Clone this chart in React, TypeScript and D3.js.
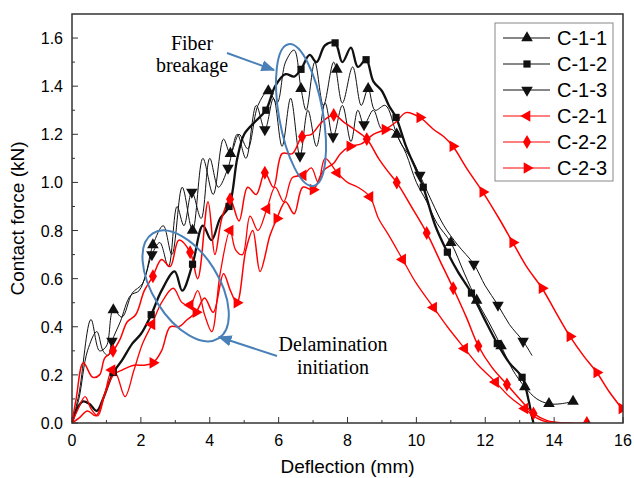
import React from 'react';
import * as d3 from 'd3';

// curve points [deflection mm, force kN]
const c11 = [[0,0],[0.2,0.12],[0.55,0.43],[0.8,0.3],[1.0,0.32],[1.2,0.47],[1.45,0.44],[1.75,0.54],[2.05,0.58],[2.35,0.74],[2.65,0.82],[2.9,0.7],[3.2,0.98],[3.5,0.8],[3.8,1.1],[4.1,0.95],[4.4,1.18],[4.6,1.12],[4.85,1.2],[5.1,1.14],[5.4,1.32],[5.7,1.38],[5.95,1.33],[6.2,1.5],[6.45,1.55],[6.65,1.39],[6.8,1.3],[7.05,1.5],[7.3,1.32],[7.6,1.5],[7.85,1.33],[8.15,1.48],[8.4,1.32],[8.6,1.39],[8.8,1.3],[9.1,1.32],[9.43,1.2],[9.7,1.12],[10.0,1.0],[10.3,0.92],[10.6,0.83],[11.0,0.75],[11.4,0.62],[11.75,0.51],[12.1,0.42],[12.46,0.32],[12.8,0.22],[13.15,0.15],[13.5,0.1],[13.85,0.08],[14.2,0.08],[14.55,0.09]];
const c12 = [[0,0],[0.15,0.06],[0.32,0.09],[0.5,0.08],[0.72,0.05],[0.9,0.1],[1.2,0.21],[1.45,0.26],[1.75,0.33],[2.0,0.37],[2.3,0.45],[2.6,0.55],[2.98,0.63],[3.2,0.55],[3.5,0.66],[3.8,0.82],[4.05,0.76],[4.3,0.85],[4.56,0.9],[4.8,1.1],[5.0,1.2],[5.3,1.25],[5.63,1.3],[5.9,1.4],[6.2,1.45],[6.45,1.44],[6.65,1.47],[6.9,1.53],[7.1,1.5],[7.35,1.57],[7.64,1.58],[7.85,1.5],[8.1,1.56],[8.3,1.48],[8.54,1.51],[8.75,1.42],[9.0,1.38],[9.2,1.32],[9.41,1.27],[9.7,1.15],[10.0,1.05],[10.2,0.98],[10.55,0.82],[10.9,0.71],[11.2,0.63],[11.6,0.54],[11.95,0.44],[12.35,0.33],[12.7,0.25],[13.07,0.19],[13.25,0.1],[13.35,0.03],[13.4,0]];
const c13 = [[0,0],[0.2,0.1],[0.45,0.3],[0.72,0.38],[0.9,0.3],[1.05,0.28],[1.16,0.34],[1.4,0.42],[1.7,0.53],[1.95,0.55],[2.15,0.62],[2.32,0.7],[2.55,0.75],[2.8,0.65],[3.05,0.9],[3.25,0.82],[3.48,0.96],[3.75,0.85],[4.0,1.1],[4.25,0.98],[4.53,1.06],[4.8,1.2],[5.05,1.1],[5.35,1.32],[5.6,1.22],[5.85,1.35],[6.1,1.15],[6.35,1.35],[6.62,1.11],[6.85,1.3],[7.1,1.15],[7.35,1.33],[7.58,1.19],[7.85,1.32],[8.1,1.17],[8.3,1.3],[8.48,1.24],[8.75,1.3],[9.0,1.22],[9.3,1.22],[9.6,1.15],[9.85,1.1],[10.1,1.03],[10.45,0.92],[10.8,0.82],[11.2,0.74],[11.67,0.66],[12.0,0.57],[12.37,0.49],[12.7,0.41],[13.1,0.34],[13.36,0.28]];
const c21 = [[0,0],[0.15,0.05],[0.38,0.11],[0.55,0.06],[0.75,0.03],[0.95,0.12],[1.16,0.22],[1.3,0.2],[1.54,0.11],[1.8,0.22],[2.05,0.33],[2.32,0.41],[2.6,0.5],[2.94,0.56],[3.2,0.5],[3.43,0.49],[3.65,0.55],[3.85,0.45],[4.06,0.38],[4.3,0.62],[4.59,0.8],[4.75,0.72],[4.95,0.7],[5.17,0.86],[5.4,0.8],[5.66,0.89],[5.9,0.98],[6.15,0.92],[6.4,1.02],[6.71,1.03],[6.95,1.06],[7.15,1.0],[7.35,1.1],[7.7,1.04],[8.0,1.0],[8.3,0.98],[8.65,0.94],[8.9,0.85],[9.2,0.78],[9.6,0.68],[10.0,0.58],[10.5,0.48],[10.9,0.4],[11.4,0.31],[11.8,0.24],[12.3,0.17],[12.7,0.11],[13.15,0.06],[13.5,0.02],[13.9,0.0],[14.5,0.0]];
const c22 = [[0,0],[0.12,0.1],[0.33,0.25],[0.6,0.19],[0.8,0.2],[0.95,0.27],[1.19,0.3],[1.4,0.35],[1.6,0.42],[1.85,0.45],[2.1,0.55],[2.35,0.61],[2.6,0.68],[2.85,0.65],[3.1,0.76],[3.43,0.71],[3.65,0.6],[3.95,0.92],[4.15,0.7],[4.35,0.85],[4.59,0.93],[4.85,0.84],[5.1,0.98],[5.35,0.95],[5.6,1.04],[5.85,0.98],[6.1,1.12],[6.4,1.12],[6.68,1.19],[6.95,1.2],[7.25,1.25],[7.6,1.28],[7.9,1.25],[8.2,1.22],[8.56,1.18],[8.9,1.1],[9.15,1.05],[9.43,1.0],[9.85,0.9],[10.3,0.79],[10.7,0.67],[11.07,0.56],[11.45,0.44],[11.8,0.32],[12.2,0.23],[12.63,0.16],[13.0,0.1],[13.4,0.04],[13.8,0.01],[14.3,0.0],[14.95,0.0]];
const c23 = [[0,0],[0.2,0.02],[0.45,0.05],[0.7,0.03],[0.95,0.12],[1.2,0.2],[1.45,0.22],[1.8,0.24],[2.1,0.24],[2.35,0.25],[2.6,0.3],[2.85,0.4],[3.1,0.4],[3.35,0.43],[3.6,0.46],[3.85,0.52],[4.1,0.46],[4.4,0.62],[4.6,0.55],[4.79,0.5],[5.05,0.72],[5.25,0.8],[5.46,0.63],[5.75,0.78],[5.95,0.85],[6.2,0.92],[6.45,0.87],[6.7,0.98],[7.0,0.97],[7.3,1.05],[7.6,1.08],[7.8,1.12],[8.07,1.15],[8.4,1.16],[8.75,1.2],[9.09,1.22],[9.4,1.25],[9.7,1.29],[10.1,1.27],[10.5,1.22],[10.8,1.19],[11.06,1.15],[11.5,1.05],[11.93,0.96],[12.4,0.85],[12.8,0.75],[13.2,0.65],[13.65,0.56],[14.05,0.46],[14.46,0.36],[14.85,0.28],[15.24,0.21],[15.6,0.13],[15.97,0.06]];

// marker positions
const m11 = [[1.2,0.47],[2.35,0.74],[3.5,0.8],[4.6,1.12],[5.7,1.38],[6.65,1.39],[7.69,1.47],[8.6,1.39],[9.43,1.2],[11.0,0.75],[11.75,0.51],[12.46,0.32],[13.15,0.15],[13.85,0.08],[14.55,0.09]];
const m12 = [[1.2,0.21],[2.3,0.45],[3.5,0.66],[4.56,0.9],[5.63,1.3],[6.65,1.47],[7.64,1.58],[8.54,1.51],[9.41,1.27],[10.2,0.98],[10.9,0.71],[11.6,0.54],[12.35,0.33],[13.07,0.19]];
const m13 = [[1.16,0.34],[2.32,0.7],[3.48,0.96],[4.53,1.06],[5.6,1.22],[6.62,1.11],[7.58,1.19],[8.48,1.24],[10.1,1.03],[11.67,0.66],[12.37,0.49],[13.1,0.34]];
const m21 = [[1.16,0.22],[2.32,0.41],[3.43,0.49],[4.59,0.8],[5.66,0.89],[6.71,1.03],[7.7,1.04],[8.65,0.94],[9.6,0.68],[10.5,0.48],[11.4,0.31],[12.3,0.17],[13.15,0.06]];
const m22 = [[1.19,0.3],[2.35,0.61],[3.43,0.71],[4.59,0.93],[5.6,1.04],[6.68,1.19],[7.6,1.28],[8.56,1.18],[9.43,1.0],[10.3,0.79],[11.07,0.56],[11.8,0.32],[12.63,0.16],[13.4,0.04],[14.95,0.0]];
const m23 = [[2.35,0.25],[3.6,0.46],[4.79,0.5],[5.95,0.85],[7.0,0.97],[8.07,1.15],[9.09,1.22],[10.1,1.27],[11.06,1.15],[11.93,0.96],[12.8,0.75],[13.65,0.56],[14.46,0.36],[15.24,0.21],[15.97,0.06]];

const names = ['C-1-1', 'C-1-2', 'C-1-3', 'C-2-1', 'C-2-2', 'C-2-3'];
const curves = [c11, c12, c13, c21, c22, c23];
const markerSets = [m11, m12, m13, m21, m22, m23];
const colors = ['#111', '#111', '#111', '#f00', '#f00', '#f00'];
const widths = [1, 2.3, 1, 1.3, 1.5, 1.5];
const shapes = ['up', 'square', 'down', 'left', 'diamond', 'right'];

const xTicks = [0, 2, 4, 6, 8, 10, 12, 14, 16];
const yTicks = [0, 0.2, 0.4, 0.6, 0.8, 1.0, 1.2, 1.4, 1.6];

const W = 634, H = 478;
const margin = { top: 14, right: 11, bottom: 55, left: 72 };

const x = d3.scaleLinear().domain([0, 16]).range([margin.left, W - margin.right]);
const y = d3.scaleLinear().domain([0, 1.7]).range([H - margin.bottom, margin.top]);

const line = d3.line().x(d => x(d[0])).y(d => y(d[1])).curve(d3.curveCatmullRom.alpha(0.5));

const symbolPath = (shape) => {
    if (shape === 'square') return d3.symbol(d3.symbolSquare, 52)();
    if (shape === 'diamond') return d3.symbol(d3.symbolDiamond, 56)();
    return d3.symbol(d3.symbolTriangle, 58)();
};
const symbolRot = { up: 0, down: 180, left: -90, right: 90, square: 0, diamond: 0 };

const Marker = ({ shape, cx, cy, color }) => (
    <path d={symbolPath(shape)} fill={color}
        transform={`translate(${cx},${cy}) rotate(${symbolRot[shape]})`} />
);

const blue = '#4a80b8';

export default function App() {
    const [x0, x1] = x.range();
    const [y0, y1] = y.range();
    const xMinor = d3.range(1, 16, 2);
    const yMinor = d3.range(0.1, 1.7, 0.2);
    const font = '"Liberation Sans", Arial, sans-serif';
    const serif = '"Liberation Serif", "Times New Roman", serif';

    return (
        <svg width={W} height={H} style={{ position: 'absolute', left: 0, top: 0, background: '#fff' }}>
            <defs>
                <marker id="arr" viewBox="0 0 10 10" refX="9" refY="5" markerWidth="7" markerHeight="7" orient="auto">
                    <path d="M0,1 L10,5 L0,9 Z" fill={blue} />
                </marker>
                <clipPath id="plot">
                    <rect x={x0} y={y1} width={x1 - x0} height={y0 - y1} />
                </clipPath>
            </defs>

            {/* curves */}
            <g clipPath="url(#plot)">
                {curves.map((c, i) => (
                    <path key={names[i]} d={line(c)} fill="none" stroke={colors[i]} strokeWidth={widths[i]} strokeLinejoin="round" />
                ))}
                {markerSets.map((ms, i) => ms.map((p, j) => (
                    <Marker key={`${i}-${j}`} shape={shapes[i]} cx={x(p[0])} cy={y(p[1])} color={colors[i]} />
                )))}
            </g>

            {/* frame */}
            <rect x={x0} y={y1} width={x1 - x0} height={y0 - y1} fill="none" stroke="#333" strokeWidth={1.5} />

            {/* ticks, drawn inward */}
            {xTicks.map(t => (
                <g key={`xt${t}`}>
                    <line x1={x(t)} x2={x(t)} y1={y0} y2={y0 - 6} stroke="#333" />
                    <text x={x(t)} y={y0 + 23} textAnchor="middle" fontFamily={font} fontSize={16}>{t}</text>
                </g>
            ))}
            {xMinor.map(t => <line key={`xm${t}`} x1={x(t)} x2={x(t)} y1={y0} y2={y0 - 3} stroke="#333" />)}
            {yTicks.map(t => (
                <g key={`yt${t}`}>
                    <line x1={x0} x2={x0 + 6} y1={y(t)} y2={y(t)} stroke="#333" />
                    <text x={x0 - 9} y={y(t) + 6} textAnchor="end" fontFamily={font} fontSize={16}>{t.toFixed(1)}</text>
                </g>
            ))}
            {yMinor.map(t => <line key={`ym${t}`} x1={x0} x2={x0 + 3} y1={y(t)} y2={y(t)} stroke="#333" />)}

            {/* axis titles */}
            <text x={(x0 + x1) / 2} y={H - 5} textAnchor="middle" fontFamily={font} fontSize={19}>Deflection (mm)</text>
            <text transform={`translate(24,${(y0 + y1) / 2}) rotate(-90)`} textAnchor="middle" fontFamily={font} fontSize={19}>Contact force (kN)</text>

            {/* annotations */}
            <ellipse cx={x(6.65)} cy={y(1.28)} rx={22} ry={72} transform={`rotate(-10,${x(6.65)},${y(1.28)})`} fill="none" stroke={blue} strokeWidth={2} />
            <ellipse cx={x(3.3)} cy={y(0.57)} rx={33} ry={62} transform={`rotate(-32,${x(3.3)},${y(0.57)})`} fill="none" stroke={blue} strokeWidth={2} />
            <line x1={227} y1={53} x2={274} y2={70} stroke={blue} strokeWidth={2} markerEnd="url(#arr)" />
            <line x1={277} y1={356} x2={219} y2={337} stroke={blue} strokeWidth={2} markerEnd="url(#arr)" />
            <text x={192} y={50} textAnchor="middle" fontFamily={serif} fontSize={20}>Fiber</text>
            <text x={192} y={72} textAnchor="middle" fontFamily={serif} fontSize={20}>breakage</text>
            <text x={333} y={351} textAnchor="middle" fontFamily={serif} fontSize={20}>Delamination</text>
            <text x={333} y={374} textAnchor="middle" fontFamily={serif} fontSize={20}>initiation</text>

            {/* legend */}
            <rect x={495} y={23} width={118} height={158} fill="#fff" stroke="#888" strokeWidth={1} />
            {names.map((n, i) => {
                const ly = 38 + i * 26;
                return (
                    <g key={`lg${n}`}>
                        <line x1={503} x2={550} y1={ly} y2={ly} stroke={colors[i]} strokeWidth={1} />
                        <Marker shape={shapes[i]} cx={527} cy={ly} color={colors[i]} />
                        <text x={557} y={ly + 7} fontFamily={font} fontSize={20}>{n}</text>
                    </g>
                );
            })}
        </svg>
    );
}
